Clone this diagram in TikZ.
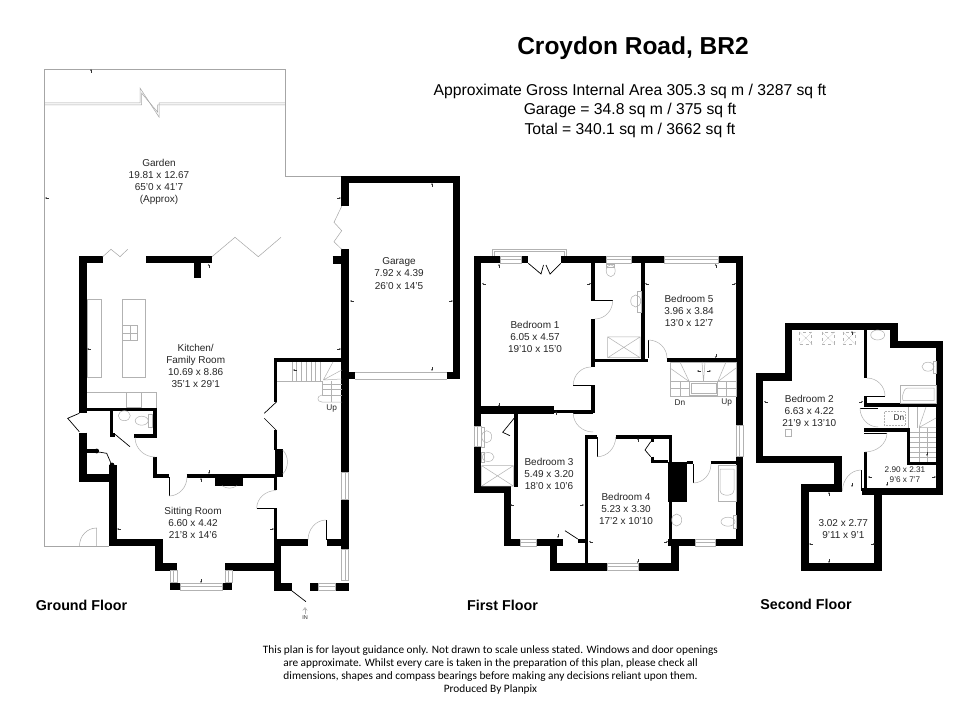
\documentclass[tikz,border=0pt]{standalone}
\usepackage{fontspec}
\setmainfont{Liberation Sans}
\newfontfamily\notefont{Carlito}
\usetikzlibrary{calc}
\usetikzlibrary{arrows.meta}
\tikzset{
  wall/.style={line width=7.2pt},
  partition/.style={line width=3.4pt},
  thinline/.style={line width=0.5pt,draw=black!30},
  plotline/.style={line width=0.5pt,draw=black!35},
  leafline/.style={line width=0.7pt,draw=black},
  dimmark/.style={line width=0.25pt,draw=black!80,{Stealth[length=1.8pt,width=1.6pt]}-},
  roomlabel/.style={font=\fontsize{10}{12.1}\selectfont,align=center,text=black!85,inner sep=0pt},
  floorlabel/.style={font=\fontsize{14.3}{16}\selectfont\bfseries,inner sep=0pt},
  arealabel/.style={font=\fontsize{15.7}{19.3}\selectfont,align=center,inner sep=0pt}
}
\newcommand{\doorswing}[3]{%
  \draw[leafline] (#1) -- (#2);
  \draw[thinline] (#2) .. controls ($(#2)+.55*(#3)-.55*(#1)$) and ($(#3)+.55*(#2)-.55*(#1)$) .. (#3);}
\begin{document}
\begin{tikzpicture}[x=1pt,y=-1pt]
  \useasboundingbox[fill=white] (0,0) rectangle (980,727);

  \node[font=\fontsize{24.5}{28}\selectfont\bfseries,inner sep=0pt](title) at (633,48.5) {Croydon Road, BR2};
  \node[arealabel](area) at (630,110.8) {Approximate Gross Internal Area 305.3 sq m / 3287 sq ft\\Garage = 34.8 sq m / 375 sq ft\\Total = 340.1 sq m / 3662 sq ft};

  \draw[plotline] (109,546)--(44,546)--(44,69)--(285,69)--(285,176)--(342,176);
  \draw[plotline] (44,103)--(140,103)--(140,88)--(159,117)--(159,103)--(285,103);
  \draw[plotline] (44,105)--(141.5,105)--(141.5,93)--(157.5,112)--(157.5,105)--(285,105);
  \draw[plotline] (96.7,546)--(96.7,528) .. controls (87,528) and (79.5,536) .. (79.5,546);

  \draw[wall] (102.7,259.7)--(83,259.7)--(83,413);
  \draw[wall] (83,432.7)--(83,478)--(116,478);
  \draw[wall] (146,259.7)--(212,259.7);
  \draw[wall] (197.5,259.7)--(197.5,278);
  \draw[wall] (113,465)--(113,542.5)--(159,542.5)--(159,567)--(177,567);
  \draw[wall] (225,567)--(281,567);
  \draw[wall] (345,206.3)--(345,179.7)--(456.7,179.7)--(456.7,379.3);
  \draw[wall] (345,249.3)--(345,472);
  \draw[wall] (345,499.3)--(345,549);
  \draw[wall] (332.7,260)--(345,260);
  \draw[wall] (277.5,540)--(277.5,590.7);
  \draw[wall] (274,542.5)--(308,542.5);
  \draw[wall] (327,542.5)--(348.7,542.5);
  \draw[wall] (274,587)--(291.7,587);
  \draw[wall] (310,587)--(318.7,587);
  \draw[wall] (335.3,587)--(348.7,587);
  \draw[wall] (170,586.3)--(180,586.3);
  \draw[wall] (222.7,586.3)--(232.3,586.3);
  \draw[wall] (348.7,375.7)--(355,375.7);
  \draw[wall] (447.3,375.7)--(453,375.7);

  \draw[partition] (275.7,401.7)--(275.7,360)--(345,360);
  \draw[partition] (275.7,430)--(275.7,450);
  \draw[partition] (275.7,477)--(275.7,490);
  \draw[partition] (275.7,508.3)--(275.7,540);
  \draw[partition] (153,476)--(169,476);
  \draw[partition] (186.7,476)--(277,476);
  \draw[partition] (86,409.5)--(156.7,409.5);
  \draw[partition] (111.3,409.5)--(111.3,435)--(115,435);
  \draw[partition] (155,409.5)--(155,438.3);
  \draw[partition] (134.3,436)--(155,436);
  \draw[partition] (155,456.7)--(155,476);
  \draw[partition] (86,451)--(96.7,451);
  \fill (96.7,451) circle (2.4);
  \fill (112,465) circle (2.4);
  \fill (275,449) rectangle (282.7,477.3);
  \fill (215,477) rectangle (243.3,485.7);

  \draw[thinline] (87,299) rectangle (101,377);
  \draw[thinline] (122,299) rectangle (145,377);
  \draw[thinline] (122.7,325.7) rectangle (137,340.7);
  \draw[thinline] (122.7,333.2)--(137,333.2) (129.8,325.7)--(129.8,340.7);
  \draw[thinline] (87,392)--(156.7,392)--(156.7,407.5);
  \draw[thinline] (126,392.5) rectangle (141,407.5);
  \draw[thinline] (124.3,415.7) ellipse (6 and 5);
  \draw[thinline] (141.7,420.7) ellipse (6.5 and 4.5);
  \draw[thinline] (148,414.7) rectangle (152,427);

  \draw[plotline] (102.7,256.7)--(111,249.3)--(120,256.7)--(127.7,249.3);
  \draw[plotline] (212,256.7)--(235,237.3)--(258.3,256.7)--(281,237.3);
  \draw[plotline] (341.7,206.3)--(334,222.3)--(341.7,230.7)--(334,241.7)--(341.7,249.3);

  \draw[leafline] (79.3,413.3)--(67.7,418.3)--(79.3,431.7);
  \draw[leafline] (264.3,413.3)--(276.7,401.7) (264.3,418.3)--(276,430);
  \draw[leafline] (115,434.3)--(130,446.7);
  \draw[leafline] (96.7,451.7)--(106.7,453.3)--(111.7,465);
  \draw[leafline] (291.7,590.7)--(306,601.7);
  \doorswing{169,477}{169,496}{187,477}
  \doorswing{276,508.3}{256.7,508.3}{276,490.5}
  \doorswing{155,437.5}{135,437.5}{155,457}
  \doorswing{326,540}{326,520}{308,540}
  \draw[thinline] (282.7,450) .. controls (289,456) and (289,468) .. (282.7,474);
  \draw[thinline] (222,485.7) .. controls (227,489) and (232,489) .. (237,485.7);

  \draw[thinline] (170,570.7) rectangle (177,582) (173.5,570.7)--(173.5,582);
  \draw[thinline] (225,570.7) rectangle (232,582) (228.5,570.7)--(228.5,582);
  \draw[thinline] (180,583) rectangle (222.7,590) (180,586.5)--(222.7,586.5);
  \draw[thinline] (318.7,583) rectangle (335.3,590) (318.7,586.5)--(335.3,586.5);
  \draw[thinline] (341.5,472) rectangle (348.7,499.3) (345,472)--(345,499.3);
  \draw[thinline] (341.5,549) rectangle (348.7,580.7) (345,549)--(345,580.7);
  \draw[thinline] (355,372)--(447.3,372) (355,379)--(447.3,379);

  \foreach \x in {292,296.7,...,323} \draw[thinline] (\x,362)--(\x,381);
  \draw[thinline] (277,381)--(322,381)--(322,395);
  \foreach \y in {384.3,389.7,395} \draw[thinline] (322,\y)--(341.7,\y);
  \draw[thinline] (331.7,381)--(331.7,402);
  \draw[thinline] (322,395) .. controls (316,396) and (317,402) .. (322,402)--(341.7,402);
  \draw[thinline] (323.3,380)--(333,362) (323.3,380)--(341.7,370) (323.3,380)--(341.7,379);

  \fill (474,256) rectangle (500,263.3);
  \fill (521,256) rectangle (528.3,263.3);
  \fill (560.7,256) rectangle (606.7,263.3);
  \fill (631.7,256) rectangle (664,263.3);
  \fill (718.3,256) rectangle (743.3,263.3);
  \draw[wall] (477.7,256)--(477.7,426.7);
  \draw[wall] (477.7,446.7)--(477.7,489.7)--(511,489.7);
  \draw[wall] (739.7,256)--(739.7,425);
  \draw[wall] (739.7,456)--(739.7,546);
  \draw[wall] (474,410)--(554,410);
  \draw[wall] (507.7,486)--(507.7,546);
  \draw[wall] (504,542.5)--(520.7,542.5);
  \draw[wall] (536,542.5)--(563.3,542.5);
  \draw[wall] (553.3,539)--(553.3,570);
  \draw[wall] (550,567)--(607.3,567);
  \draw[wall] (638.7,567)--(675,567)--(675,539);
  \draw[wall] (668.3,542.5)--(695.7,542.5);
  \draw[wall] (715,542.5)--(743.3,542.5);
  \draw[partition] (593,263)--(593,300.7);
  \draw[partition] (593,319)--(593,367);
  \draw[partition] (593,385)--(593,413.3);
  \draw[partition] (554,411.7)--(594.7,411.7);
  \draw[partition] (591,360.3)--(648.3,360.3);
  \draw[partition] (643,263)--(643,360);
  \draw[partition] (666.7,360)--(738,360);
  \draw[partition] (516,414)--(516,487);
  \draw[partition] (586.7,435)--(586.7,570);
  \draw[partition] (585,437)--(597.3,437);
  \draw[partition] (615.7,437)--(672,437);
  \draw[partition] (670.3,435)--(670.3,540);
  \draw[partition] (650.7,461.7)--(668,461.7);
  \draw[partition] (652.3,456.7)--(652.3,463);
  \draw[partition] (652.3,437)--(652.3,442);
  \draw[partition] (686.7,462.7)--(693.3,462.7);
  \draw[partition] (710.7,462.7)--(738,462.7);
  \draw[partition] (578,541)--(586,541);
  \fill (668,461.7) rectangle (686.7,501.7);

  \draw[thinline] (492,256)--(492,249.3)--(566.7,249.3)--(566.7,256);
  \draw[thinline] (494.5,256)--(494.5,251.5)--(564.2,251.5)--(564.2,256);
  \foreach \a/\b in {500/521,606.7/631.7,664/718.3} \draw[thinline] (\a,256) rectangle (\b,263.3) (\a,259.7)--(\b,259.7);
  \draw[thinline] (474,426.7) rectangle (481.3,446.7) (477.7,426.7)--(477.7,446.7);
  \draw[thinline] (736,425) rectangle (743.3,456) (739.7,425)--(739.7,456);
  \draw[thinline] (520.7,539) rectangle (536,546) (520.7,542.5)--(536,542.5);
  \draw[thinline] (695.7,539) rectangle (715,546) (695.7,542.5)--(715,542.5);
  \draw[thinline] (607.3,563.3) rectangle (638.7,570) (607.3,566.7)--(638.7,566.7);
  \draw[leafline] (528.3,263.3)--(541,274)--(543.5,265) (560.7,263.3)--(550,274)--(546,265);
  \draw[leafline] (514.3,418)--(502.7,432.3)--(510,435.7);
  \draw[leafline] (565,530.7)--(577.7,539);
  \draw[leafline] (650.7,441.7)--(645,450)--(650.7,456.7);
  \doorswing{595,300.7}{612.7,300.7}{595,319}
  \doorswing{591,385}{573.3,385}{591,367}
  \doorswing{593,413.5}{573.3,413.5}{593,432}
  \doorswing{597.3,437}{597.3,456.7}{615.7,437}
  \doorswing{648.3,358}{648.3,340}{667,358}
  \doorswing{693.3,464}{693.3,483}{711,464}

  \draw[thinline] (610.7,270.7) ellipse (4.5 and 6);
  \draw[thinline] (606.7,264.5) rectangle (614.7,267);
  \draw[thinline] (635.7,301) ellipse (5 and 6);
  \draw[thinline] (637,291) rectangle (641,312);
  \draw[thinline] (607.7,337) rectangle (640,357.7) (607.7,337)--(640,357.7) (640,337)--(607.7,357.7);
  \draw[thinline] (718,465.7) rectangle (736,501.7);
  \draw[thinline] (720,490) .. controls (720,497) and (734,497) .. (734,490)--(734,469)--(720,469)--cycle;
  \draw[thinline] (676.7,520) ellipse (5 and 6);
  \draw[thinline] (728,521.7) ellipse (7 and 4.5);
  \draw[thinline] (733,515) rectangle (736,528);
  \draw[thinline] (481.7,465.7) rectangle (513.3,486) (481.7,465.7)--(513.3,486) (513.3,465.7)--(481.7,486);
  \draw[thinline] (486.7,436.7) ellipse (5 and 6);
  \draw[thinline] (481.3,427) rectangle (484,447);
  \draw[thinline] (488,457) ellipse (6 and 4.5);
  \draw[thinline] (481.7,452) rectangle (484.7,462);

  \draw[thinline] (670,362) rectangle (736,396.7);
  \draw[thinline] (689.3,381.7) rectangle (717.7,395);
  \draw[thinline] (691,383.3) rectangle (716,393.4);
  \draw[thinline] (670,381.7)--(689.3,381.7) (717.7,381.7)--(736,381.7);
  \draw[thinline] (670,388.3)--(689.3,388.3) (717.7,388.3)--(736,388.3);
  \draw[thinline] (680,381.7)--(680,396.7) (726,381.7)--(726,396.7);
  \draw[thinline] (689.3,381.7)--(670,368) (689.3,381.7)--(680,362) (717.7,381.7)--(736,368) (717.7,381.7)--(726,362);
  \draw[thinline] (703.5,381.7)--(705,362) (703.5,381.7)--(702,362);

  \draw[wall] (897.3,344.7)--(894,344.7)--(894,326.3)--(788.5,326.3)--(788.5,377)--(759.7,377)--(759.7,459.7)--(838,459.7)--(838,488)--(805,488)--(805,567)--(878,567)--(878,491.7)--(939.7,491.7)--(939.7,344.7)--(890.7,344.7);
  \draw[wall] (861.7,491.7)--(878,491.7);
  \draw[partition] (865.7,330)--(865.7,378.3);
  \draw[partition] (865.7,396)--(865.7,405)--(936,405);
  \draw[partition] (864,430)--(908.3,430)--(908.3,463.7)--(936,463.7);
  \draw[partition] (865.7,451.7)--(865.7,488);
  \draw[leafline] (864,433)--(887,433);

  \foreach \x in {805.7,828.3,849} \draw[thinline,dashed] (\x-6,332) rectangle (\x+6,344);
  \foreach \x in {805.7,828.3,849} \draw[thinline,densely dotted] (\x-6,332)--(\x+6,344) (\x+6,332)--(\x-6,344);
  \draw[thinline] (785,429) rectangle (791.7,436);
  \draw[thinline] (877.7,335) ellipse (7 and 5);
  \draw[thinline] (928,366.7) ellipse (6 and 4.5);
  \draw[thinline] (933,361) rectangle (936,373);
  \draw[thinline] (900,385.7) rectangle (936,403.3);
  \draw[thinline] (903,400.5)--(934,400.5)--(934,388)--(908,388) .. controls (902,388) and (902,400.5) .. (903,400.5);
  \draw[thinline,densely dotted] (884,411.7) rectangle (905,425);
  \draw[thinline] (908,407)--(908,428) (917,407)--(917,428);
  \foreach \x in {919,927} \draw[thinline] (\x,428)--(\x,461.7);
  \foreach \y in {432,437,442,447,452,457} \draw[thinline] (910,\y)--(936,\y);
  \draw[thinline] (919,427.5)--(936,427.5) (919,427.5)--(926,407) (919,427.5)--(936,418);
  \doorswing{867,396}{885,396}{867,378}
  \doorswing{878,408}{860,408}{878,427}
  \doorswing{865,433}{887,433}{865,452}
  \doorswing{861,491}{861,470}{842.5,491}

  \foreach \x/\y in {45/198,87/349,117/529,350/301,482/283.7,645/283.7,510/505,589/541.7,764/401.7,809/544,868/477,697/371,293/370}
    \draw[dimmark] (\x,\y)--++(4,0);
  \foreach \x/\y in {341/198,341/349,274/529,453/301,591/283.7,736/283.7,584/505,668/541.7,863/401.7,875/544,936/477,711/371}
    \draw[dimmark] (\x,\y)--++(-4,0);
  \foreach \x/\y in {91/69,208.7/264,432/183,201/478,499/264,715.7/264,556/411,638/438,852/331,829/492}
    \draw[dimmark] (\x,\y)--++(0,4);
  \foreach \x/\y in {209/474,432/371,201/583,499/406.7,715.7/358,558/538,637.7/563,852/487,829/563,887/486,927/456}
    \draw[dimmark] (\x,\y)--++(0,-4);

  \node[roomlabel](garden) at (159,182) {Garden\\19.81 x 12.67\\65'0 x 41'7\\(Approx)};
  \node[roomlabel](kitchen) at (195.7,365.7) {Kitchen/\\Family Room\\10.69 x 8.86\\35'1 x 29'1};
  \node[roomlabel](garage) at (399,273.5) {Garage\\7.92 x 4.39\\26'0 x 14'5};
  \node[roomlabel](sitting) at (193,523.3) {Sitting Room\\6.60 x 4.42\\21'8 x 14'6};
  \node[roomlabel](bedone) at (535,336.7) {Bedroom 1\\6.05 x 4.57\\19'10 x 15'0};
  \node[roomlabel](bedfive) at (689,311.3) {Bedroom 5\\3.96 x 3.84\\13'0 x 12'7};
  \node[roomlabel](bedthree) at (549,473.7) {Bedroom 3\\5.49 x 3.20\\18'0 x 10'6};
  \node[roomlabel](bedfour) at (626,508.7) {Bedroom 4\\5.23 x 3.30\\17'2 x 10'10};
  \node[roomlabel](bedtwo) at (809.3,410.7) {Bedroom 2\\6.63 x 4.22\\21'9 x 13'10};
  \node[roomlabel](loft) at (843.3,529.5) {3.02 x 2.77\\9'11 x 9'1};
  \node[roomlabel,font=\fontsize{8.2}{10}\selectfont](store) at (905,475) {2.90 x 2.31\\9'6 x 7'7};
  \foreach \n/\x/\y/\t in {upg/331.7/408.3/Up,dna/680/403/Dn,upa/726.7/402.3/Up,dnb/899/417.7/Dn}
    \node[roomlabel,font=\fontsize{8.3}{10}\selectfont](\n) at (\x,\y) {\t};
  \node[roomlabel,font=\fontsize{5.5}{6}\selectfont](in) at (305,618) {IN};
  \draw[thinline,-{Stealth[open,length=3.5pt,width=5pt]}] (305,614)--(305,607);

  \node[floorlabel](ground) at (81.5,605) {Ground Floor};
  \node[floorlabel](first) at (502.5,605) {First Floor};
  \node[floorlabel](second) at (806,604) {Second Floor};
  \node[font=\notefont\fontsize{11.3}{12.9}\selectfont,align=center,inner sep=0pt](note) at (490.5,670.3) {This plan is for layout guidance only. Not drawn to scale unless stated. Windows and door openings\\are approximate. Whilst every care is taken in the preparation of this plan, please check all\\dimensions, shapes and compass bearings before making any decisions reliant upon them.\\Produced By Planpix};
\end{tikzpicture}
\end{document}
